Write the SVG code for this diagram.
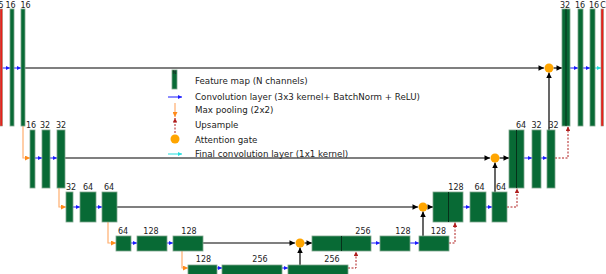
<svg xmlns="http://www.w3.org/2000/svg" width="606" height="274" viewBox="0 0 606 274">
<defs>
<style>
.fm{fill:#086a35;stroke:#7ea68c;stroke-width:0.8}
.rd{fill:#e8201a;stroke:#9a8a7a;stroke-width:0.6}
.dv{stroke:#06301a;stroke-width:1}
.lb{font-family:"DejaVu Sans",sans-serif;font-size:8px;fill:#222;text-anchor:middle}
.lg{font-family:"DejaVu Sans",sans-serif;font-size:8.7px;fill:#222}
.sk{stroke:#000;stroke-width:1.2;fill:none}
.cv{stroke:#1a1aff;stroke-width:1;fill:none}
.pl{stroke:#ffae6e;stroke-width:1.2;fill:none}
.up{stroke:#b01e1e;stroke-width:1;stroke-dasharray:2 1.5;fill:none}
.fc{stroke:#22dddd;stroke-width:1;fill:none}
.ag{fill:#ffa500}
</style>
<marker id="mb" viewBox="0 0 10 10" refX="10" refY="5" markerWidth="7" markerHeight="5.5" orient="auto" markerUnits="userSpaceOnUse"><path d="M0,0L10,5L0,10z" fill="#000"/></marker>
<marker id="mu" viewBox="0 0 10 10" refX="10" refY="5" markerWidth="4.5" markerHeight="4.5" orient="auto" markerUnits="userSpaceOnUse"><path d="M0,0L10,5L0,10z" fill="#1a1aff"/></marker>
<marker id="mo" viewBox="0 0 10 10" refX="10" refY="5" markerWidth="5" markerHeight="5" orient="auto" markerUnits="userSpaceOnUse"><path d="M0,0L10,5L0,10z" fill="#ff8a1a"/></marker>
<marker id="mr" viewBox="0 0 10 10" refX="10" refY="5" markerWidth="5" markerHeight="4.5" orient="auto" markerUnits="userSpaceOnUse"><path d="M0,0L10,5L0,10z" fill="#b01e1e"/></marker>
<marker id="mc" viewBox="0 0 10 10" refX="10" refY="5" markerWidth="4.5" markerHeight="4.5" orient="auto" markerUnits="userSpaceOnUse"><path d="M0,0L10,5L0,10z" fill="#22dddd"/></marker>
</defs>
<rect width="606" height="274" fill="#fff"/>

<g id="connectors">
<!-- skip connections -->
<path class="sk" d="M25,68H544" marker-end="url(#mb)"/>
<path class="sk" d="M553.5,68H562" marker-end="url(#mb)"/>
<path class="sk" d="M549,130V72.5" marker-end="url(#mb)"/>
<path class="sk" d="M65,158H490" marker-end="url(#mb)"/>
<path class="sk" d="M499.5,158H509" marker-end="url(#mb)"/>
<path class="sk" d="M495,192V162.5" marker-end="url(#mb)"/>
<path class="sk" d="M117,207H418" marker-end="url(#mb)"/>
<path class="sk" d="M427.5,207H433" marker-end="url(#mb)"/>
<path class="sk" d="M423,236V211.5" marker-end="url(#mb)"/>
<path class="sk" d="M203,243H295" marker-end="url(#mb)"/>
<path class="sk" d="M304.5,243H312" marker-end="url(#mb)"/>
<path class="sk" d="M300,265V247.5" marker-end="url(#mb)"/>
<!-- convolutions -->
<path class="cv" d="M2.5,68H10" marker-end="url(#mu)"/>
<path class="cv" d="M14,68H21" marker-end="url(#mu)"/>
<path class="cv" d="M35,158H42" marker-end="url(#mu)"/>
<path class="cv" d="M50,158H57" marker-end="url(#mu)"/>
<path class="cv" d="M73,207H80" marker-end="url(#mu)"/>
<path class="cv" d="M96,207H102" marker-end="url(#mu)"/>
<path class="cv" d="M131,243H137" marker-end="url(#mu)"/>
<path class="cv" d="M167,243H173" marker-end="url(#mu)"/>
<path class="cv" d="M217,268H222" marker-end="url(#mu)"/>
<path class="cv" d="M282,268H288" marker-end="url(#mu)"/>
<path class="cv" d="M371,243H380" marker-end="url(#mu)"/>
<path class="cv" d="M410,243H419" marker-end="url(#mu)"/>
<path class="cv" d="M463,207H470" marker-end="url(#mu)"/>
<path class="cv" d="M486,207H492" marker-end="url(#mu)"/>
<path class="cv" d="M524,158H532" marker-end="url(#mu)"/>
<path class="cv" d="M541,158H547" marker-end="url(#mu)"/>
<path class="cv" d="M570,68H578" marker-end="url(#mu)"/>
<path class="cv" d="M583,68H590" marker-end="url(#mu)"/>
<path class="fc" d="M595,68H601" marker-end="url(#mc)"/>
<!-- max pooling -->
<path class="pl" d="M23,126V158H30" marker-end="url(#mo)"/>
<path class="pl" d="M59,188V207H66" marker-end="url(#mo)"/>
<path class="pl" d="M108,222V243H116" marker-end="url(#mo)"/>
<path class="pl" d="M182,251V268H188" marker-end="url(#mo)"/>
<!-- upsample -->
<path class="up" d="M348,268H356V251.5" marker-end="url(#mr)"/>
<path class="up" d="M449,243H455V222.5" marker-end="url(#mr)"/>
<path class="up" d="M507,207H517V188.5" marker-end="url(#mr)"/>
<path class="up" d="M555,158H568V126.5" marker-end="url(#mr)"/>
</g>

<g id="attention-gates">
<circle id="ag1" class="ag" cx="549" cy="68" r="4.5"/>
<circle id="ag2" class="ag" cx="495" cy="158" r="4.5"/>
<circle id="ag3" class="ag" cx="423" cy="207" r="4.5"/>
<circle id="ag4" class="ag" cx="300" cy="243" r="4.5"/>
</g>

<g id="enc1">
<rect class="rd" x="0" y="9" width="2.5" height="117"/><text class="lb" x="1" y="7.5">5</text>
<rect class="fm" x="10" y="9" width="4" height="117"/><text class="lb" x="10.5" y="7.5">16</text>
<rect class="fm" x="21" y="9" width="4" height="117"/><text class="lb" x="25.5" y="7.5">16</text>
</g>
<g id="enc2">
<rect class="fm" x="30" y="130" width="5" height="58"/><text class="lb" x="31" y="128">16</text>
<rect class="fm" x="42" y="130" width="8" height="58"/><text class="lb" x="45" y="128">32</text>
<rect class="fm" x="57" y="130" width="8" height="58"/><text class="lb" x="61" y="128">32</text>
</g>
<g id="enc3">
<rect class="fm" x="66" y="192" width="7" height="30"/><text class="lb" x="71" y="189.5">32</text>
<rect class="fm" x="80" y="192" width="16" height="30"/><text class="lb" x="88" y="189.5">64</text>
<rect class="fm" x="102" y="192" width="15" height="30"/><text class="lb" x="109" y="189.5">64</text>
</g>
<g id="enc4">
<rect class="fm" x="116" y="236" width="15" height="15"/><text class="lb" x="123" y="233.5">64</text>
<rect class="fm" x="137" y="236" width="30" height="15"/><text class="lb" x="151" y="233.5">128</text>
<rect class="fm" x="173" y="236" width="30" height="15"/><text class="lb" x="189" y="233.5">128</text>
</g>
<g id="bottleneck">
<rect class="fm" x="188" y="265" width="29" height="12"/><text class="lb" x="203.5" y="262">128</text>
<rect class="fm" x="222" y="265" width="60" height="12"/><text class="lb" x="260" y="262">256</text>
<rect class="fm" x="288" y="265" width="60" height="12"/><text class="lb" x="332" y="262">256</text>
</g>
<g id="dec4">
<rect class="fm" x="312" y="236" width="59" height="15"/><line class="dv" x1="341.5" y1="236" x2="341.5" y2="251"/><text class="lb" x="363" y="233.5">256</text>
<rect class="fm" x="380" y="236" width="30" height="15"/><text class="lb" x="403" y="233.5">128</text>
<rect class="fm" x="419" y="236" width="30" height="15"/><text class="lb" x="438.5" y="233.5">128</text>
</g>
<g id="dec3">
<rect class="fm" x="433" y="192" width="30" height="30"/><line class="dv" x1="448.5" y1="192" x2="448.5" y2="222"/><text class="lb" x="456" y="190">128</text>
<rect class="fm" x="470" y="192" width="16" height="30"/><text class="lb" x="479.5" y="190">64</text>
<rect class="fm" x="492" y="192" width="15" height="30"/><text class="lb" x="501" y="190">64</text>
</g>
<g id="dec2">
<rect class="fm" x="509" y="130" width="15" height="58"/><line class="dv" x1="516.5" y1="130" x2="516.5" y2="188"/><text class="lb" x="521" y="128">64</text>
<rect class="fm" x="532" y="130" width="9" height="58"/><text class="lb" x="536.5" y="128">32</text>
<rect class="fm" x="547" y="130" width="8" height="58"/><text class="lb" x="553.5" y="128">32</text>
</g>
<g id="dec1">
<rect class="fm" x="562" y="9" width="8" height="117"/><line class="dv" x1="566" y1="9" x2="566" y2="126"/><text class="lb" x="565" y="7.5">32</text>
<rect class="fm" x="578" y="9" width="5" height="117"/><text class="lb" x="580" y="7.5">16</text>
<rect class="fm" x="590" y="9" width="5" height="117"/><text class="lb" x="594" y="7.5">16</text>
<rect class="rd" x="601" y="9" width="2.5" height="117"/><text class="lb" x="603" y="7.5">C</text>
</g>

<g id="legend">
<rect class="fm" x="172" y="70" width="5" height="19"/>
<text x="174.5" y="73.5" style="font-family:'DejaVu Sans',sans-serif;font-size:5px;fill:#222;text-anchor:middle">N</text>
<text class="lg" x="195" y="83.5">Feature map (N channels)</text>
<path class="cv" d="M168,97H182" marker-end="url(#mu)"/>
<text class="lg" x="195" y="99.5">Convolution layer (3x3 kernel+ BatchNorm + ReLU)</text>
<path class="pl" d="M175,103V117" marker-end="url(#mo)"/>
<text class="lg" x="195" y="112.5">Max pooling (2x2)</text>
<path class="up" d="M175,133V118" marker-end="url(#mr)"/>
<text class="lg" x="195" y="128">Upsample</text>
<circle class="ag" cx="175" cy="139" r="4.5"/>
<text class="lg" x="195" y="142.5">Attention gate</text>
<path class="fc" d="M168,154H182" marker-end="url(#mc)"/>
<text class="lg" x="195" y="156.5">Final convolution layer (1x1 kernel)</text>
</g>
</svg>
